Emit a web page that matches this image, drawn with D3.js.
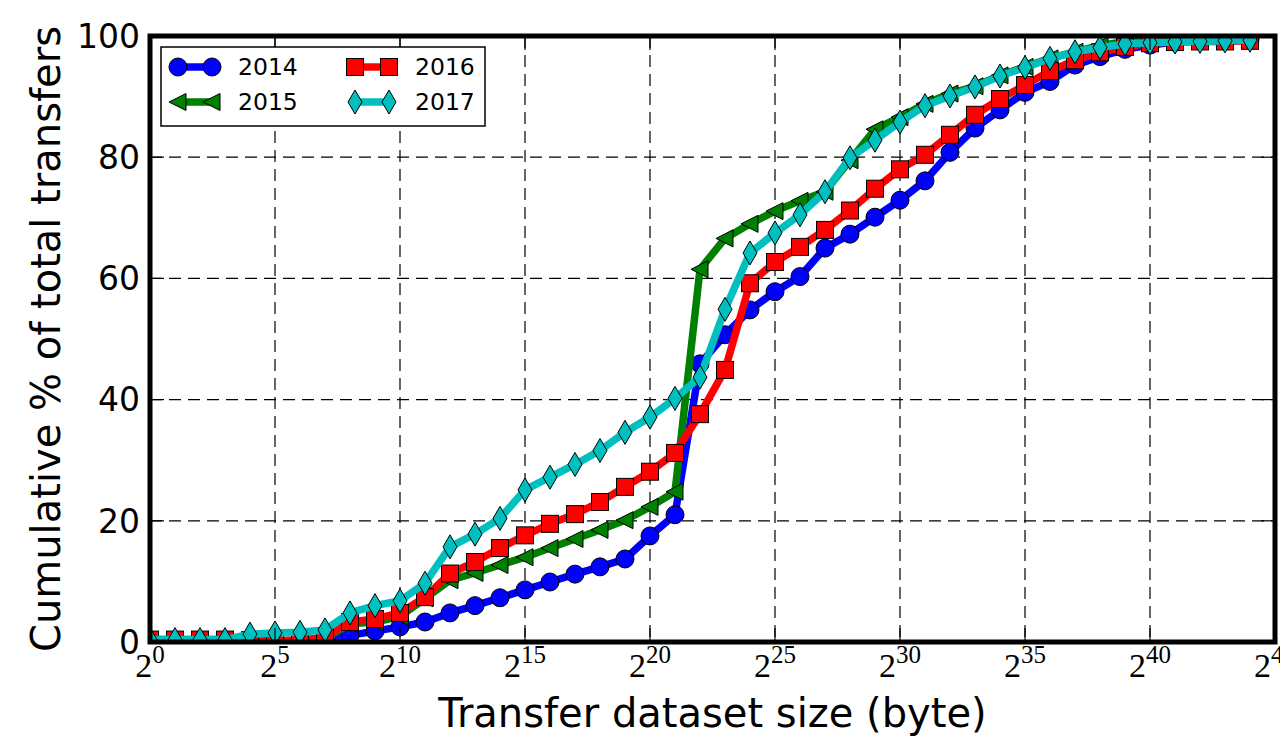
<!DOCTYPE html>
<html>
<head>
<meta charset="utf-8">
<script src="https://cdn.jsdelivr.net/npm/d3@7"></script>
<style>
  body { margin: 0; background: #fff; }
  svg { display: block; }
</style>
</head>
<body>
<div id="chart"></div>
<script>
// x values are the exponent n of 2^n bytes
const exponents = [0,1,2,3,4,5,6,7,8,9,10,11,12,13,14,15,16,17,18,19,20,21,22,23,24,25,26,27,28,29,30,31,32,33,34,35,36,37,38,39,40,41,42,43,44];

const y2014 = [0,0,0,0,0,0,0.1,0.3,1.1,1.8,2.5,3.3,4.8,6.0,7.3,8.6,9.9,11.2,12.4,13.7,17.5,21.0,45.9,50.7,54.8,57.8,60.3,65.0,67.3,70.1,72.9,76.1,80.8,84.8,87.8,90.7,92.5,95.2,96.6,97.8,98.5,99.0,99.2,99.3,99.4];
const y2015 = [0,0,0,0,0,0,0.1,0.5,3.0,3.3,4.2,7.2,10.2,11.4,12.7,14.0,15.5,17.0,18.5,20.1,22.3,24.8,61.5,66.6,69.0,71.1,72.8,74.3,79.5,84.6,86.6,88.8,90.5,91.7,93.5,94.9,96.3,97.4,98.4,99.1,99.4,99.6,99.7,99.7,99.8];
const y2016 = [0.4,0.4,0.4,0.4,0.3,0.3,0.3,0.8,3.3,3.8,4.8,7.4,11.3,13.2,15.5,17.6,19.5,21.1,23.1,25.6,28.1,31.2,37.6,44.9,59.2,62.7,65.2,68.0,71.2,74.8,78.0,80.4,83.7,87.0,89.6,91.9,94.2,96.0,97.3,98.2,98.8,99.0,99.1,99.1,99.2];
const y2017 = [0.4,0.4,0.4,0.4,1.3,1.5,1.6,2.0,4.8,6.0,6.8,9.7,15.7,17.8,20.4,25.1,27.2,29.3,31.6,34.6,37.1,40.2,43.7,54.9,64.2,67.5,70.5,74.3,79.9,82.8,85.8,88.5,90.1,91.6,93.4,94.8,96.3,97.4,98.1,98.7,98.9,99.0,99.1,99.2,99.3];

const seriesNames = ['2014', '2015', '2016', '2017'];
const xTicks = [0,5,10,15,20,25,30,35,40,45];
const yTicks = [0,20,40,60,80,100];

const W = 1280, H = 736;
const pLeft = 150, pRight = 1275, pTop = 36, pBottom = 642;

const x = d3.scaleLinear().domain([0, 45]).range([pLeft, pRight]);
const y = d3.scaleLinear().domain([0, 100]).range([pBottom, pTop]);

const svg = d3.select("#chart").append("svg")
    .attr("width", W).attr("height", H);

svg.append("defs").append("clipPath").attr("id", "plotclip")
  .append("rect").attr("x", pLeft).attr("y", pTop)
  .attr("width", pRight - pLeft).attr("height", pBottom - pTop);

// grid
const grid = svg.append("g").attr("stroke", "#000").attr("stroke-width", 1.2)
    .attr("stroke-dasharray", "12,7");
grid.selectAll(".gx").data(xTicks.slice(1, -1)).join("line")
    .attr("x1", d => x(d)).attr("x2", d => x(d))
    .attr("y1", pTop).attr("y2", pBottom);
grid.selectAll(".gy").data(yTicks.slice(1, -1)).join("line")
    .attr("y1", d => y(d)).attr("y2", d => y(d))
    .attr("x1", pLeft).attr("x2", pRight);

// markers
function drawMarker(g, type, color) {
    if (type === "circle") {
        g.append("circle").attr("r", 9);
    } else if (type === "square") {
        g.append("rect").attr("x", -8.5).attr("y", -8.5).attr("width", 17).attr("height", 17);
    } else if (type === "triangle") {
        g.append("path").attr("d", "M-9,0L8,-8.5L8,8.5Z");
    } else {
        g.append("path").attr("d", "M0,-12L7,0L0,12L-7,0Z");
    }
    g.selectAll("*").attr("fill", color).attr("stroke", "#000").attr("stroke-width", 1);
}

const series = [
    {name: seriesNames[0], values: y2014, color: "#0000ff", marker: "circle"},
    {name: seriesNames[1], values: y2015, color: "#008000", marker: "triangle"},
    {name: seriesNames[2], values: y2016, color: "#ff0000", marker: "square"},
    {name: seriesNames[3], values: y2017, color: "#00bfbf", marker: "diamond"}
];

const plot = svg.append("g").attr("clip-path", "url(#plotclip)");
const line = d3.line().x((d, i) => x(exponents[i])).y(d => y(d));

series.forEach(s => {
    const g = plot.append("g");
    g.append("path").datum(s.values)
        .attr("d", line)
        .attr("fill", "none")
        .attr("stroke", s.color)
        .attr("stroke-width", 7.5)
        .attr("stroke-linejoin", "round");
    s.values.forEach((v, i) => {
        const m = g.append("g").attr("transform", `translate(${x(exponents[i])},${y(v)})`);
        drawMarker(m, s.marker, s.color);
    });
});

// ticks (inward, all sides)
const ticks = svg.append("g").attr("stroke", "#000").attr("stroke-width", 1.2);
xTicks.forEach(t => {
    ticks.append("line").attr("x1", x(t)).attr("x2", x(t)).attr("y1", pBottom).attr("y2", pBottom - 14);
    ticks.append("line").attr("x1", x(t)).attr("x2", x(t)).attr("y1", pTop).attr("y2", pTop + 14);
});
yTicks.forEach(t => {
    ticks.append("line").attr("y1", y(t)).attr("y2", y(t)).attr("x1", pLeft).attr("x2", pLeft + 14);
    ticks.append("line").attr("y1", y(t)).attr("y2", y(t)).attr("x1", pRight).attr("x2", pRight - 14);
});

// frame
svg.append("rect").attr("x", pLeft).attr("y", pTop)
    .attr("width", pRight - pLeft).attr("height", pBottom - pTop)
    .attr("fill", "none").attr("stroke", "#000").attr("stroke-width", 5);

// y tick labels
svg.append("g").selectAll("text").data(yTicks).join("text")
    .attr("x", pLeft - 10).attr("y", d => y(d))
    .attr("dy", "0.36em")
    .attr("text-anchor", "end")
    .style("font-family", "DejaVu Sans")
    .style("font-size", "33px")
    .text(d => d);

// x tick labels 2^n
const xl = svg.append("g").selectAll("text").data(xTicks).join("text")
    .attr("x", d => x(d)).attr("y", 677)
    .attr("text-anchor", "middle")
    .style("font-family", "Liberation Serif")
    .style("font-size", "34px");
xl.append("tspan").text("2");
xl.append("tspan").attr("dy", -14).style("font-size", "25px").text(d => d);

// axis titles
svg.append("text")
    .attr("x", (pLeft + pRight) / 2).attr("y", 727)
    .attr("text-anchor", "middle")
    .style("font-family", "DejaVu Sans").style("font-size", "40px")
    .text("Transfer dataset size (byte)");

svg.append("text")
    .attr("transform", `translate(60,${(pTop + pBottom) / 2}) rotate(-90)`)
    .attr("text-anchor", "middle")
    .style("font-family", "DejaVu Sans").style("font-size", "40px")
    .text("Cumulative % of total transfers");

// legend
const lg = svg.append("g");
lg.append("rect").attr("x", 161).attr("y", 47).attr("width", 324).attr("height", 79)
    .attr("fill", "#fff").attr("stroke", "#000").attr("stroke-width", 1.5);
const legendPos = [[170, 67], [170, 102], [347, 67], [347, 102]];
series.forEach((s, i) => {
    const [lx, ly] = legendPos[i];
    const g = lg.append("g");
    g.append("line").attr("x1", lx + 8).attr("x2", lx + 42).attr("y1", ly).attr("y2", ly)
        .attr("stroke", s.color).attr("stroke-width", 7.5);
    [lx + 8, lx + 42].forEach(mx => {
        drawMarker(g.append("g").attr("transform", `translate(${mx},${ly})`), s.marker, s.color);
    });
    g.append("text").attr("x", lx + 68).attr("y", ly).attr("dy", "0.36em")
        .style("font-family", "DejaVu Sans").style("font-size", "23.5px")
        .text(s.name);
});
</script>
</body>
</html>
